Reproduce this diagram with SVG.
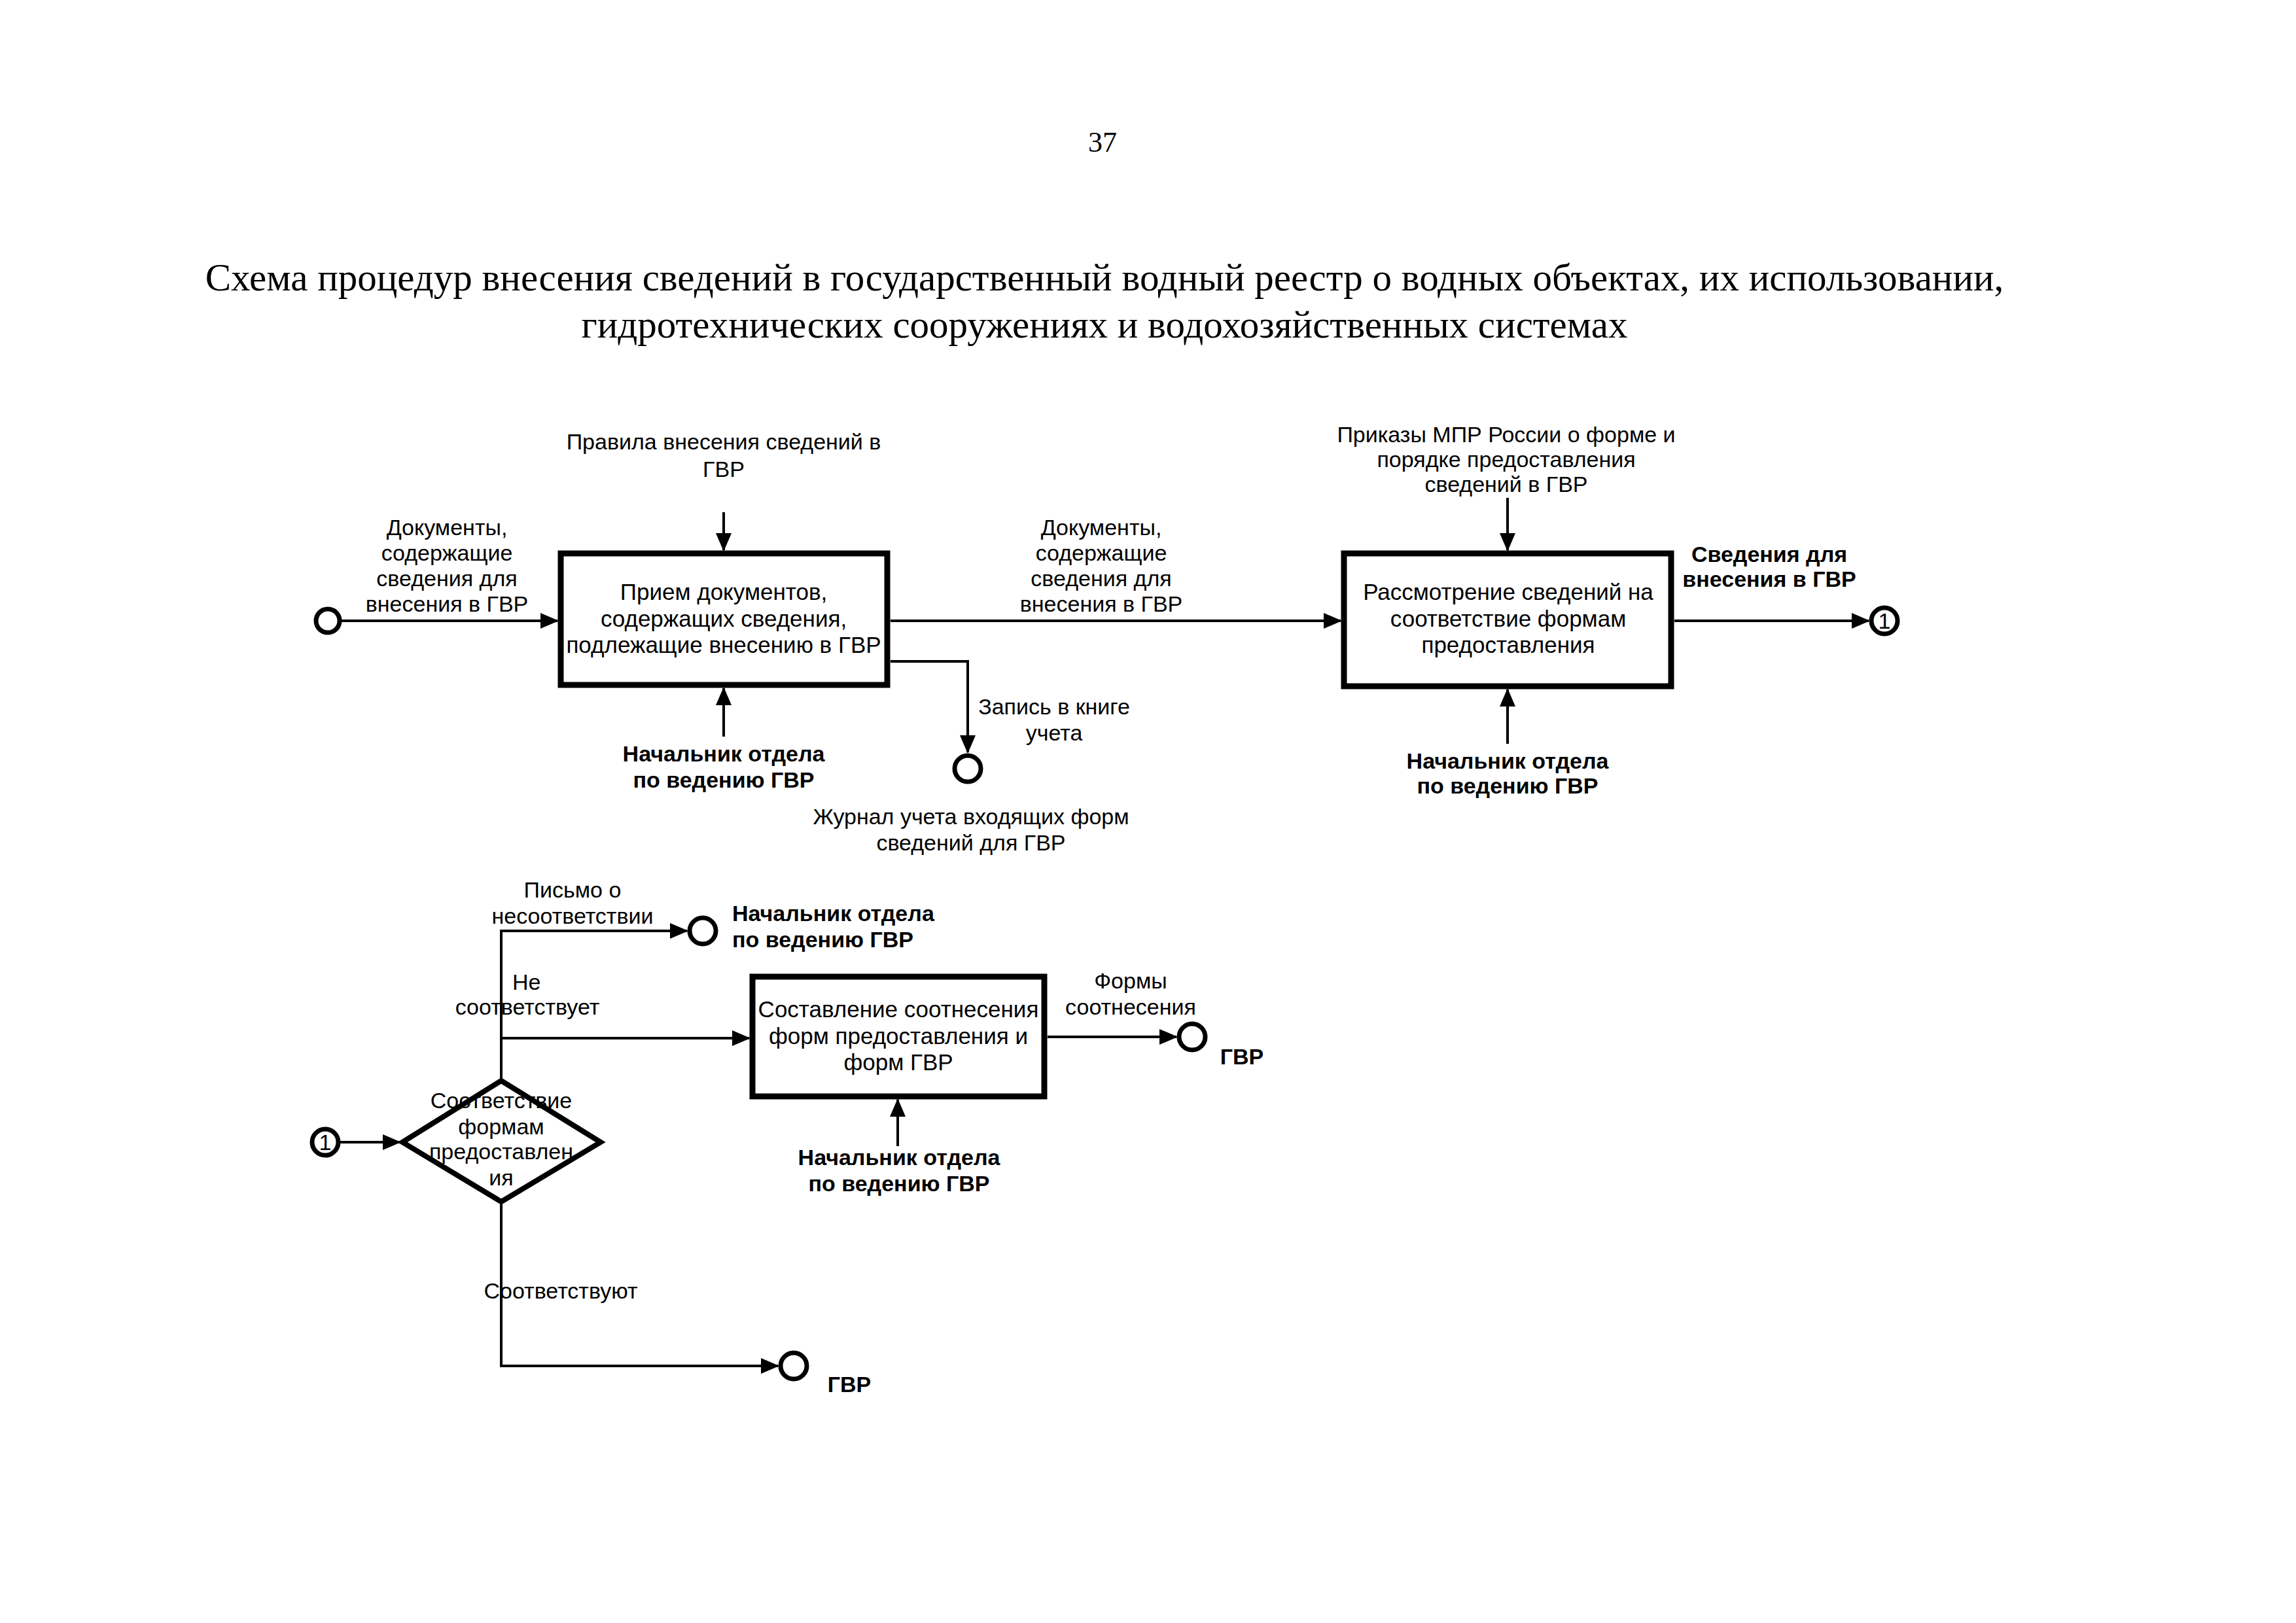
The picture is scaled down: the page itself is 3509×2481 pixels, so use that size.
<svg xmlns="http://www.w3.org/2000/svg" width="3509" height="2481" viewBox="0 0 3509 2481">
<style>
text{font-family:"Liberation Sans",Arial,sans-serif;font-size:34px;fill:#000;text-anchor:middle}
.b{font-weight:bold}
.st{text-anchor:start}
.bx{font-size:35px}
.ttl{font-family:"Liberation Serif","Times New Roman",serif;font-size:59px}
.pg{font-family:"Liberation Serif","Times New Roman",serif;font-size:44px}
.box{fill:#fff;stroke:#000;stroke-width:9}
.dia{fill:#fff;stroke:#000;stroke-width:8}
.term{fill:#fff;stroke:#000;stroke-width:7}
.ln{fill:none;stroke:#000;stroke-width:4}
.ar{marker-end:url(#ah)}
</style>
<defs>
<marker id="ah" markerUnits="userSpaceOnUse" markerWidth="28" markerHeight="24" refX="26" refY="12" orient="auto">
<path d="M0,0 L28,12 L0,24 z" fill="#000"/>
</marker>
</defs>
<rect width="3509" height="2481" fill="#fff"/>
<text class="pg" x="1685" y="232">37</text>
<text class="ttl" x="1688" y="444">Схема процедур внесения сведений в государственный водный реестр о водных объектах, их использовании,</text>
<text class="ttl" x="1688" y="516">гидротехнических сооружениях и водохозяйственных системах</text>

<g id="connectors">
<line class="ln ar" x1="522" y1="949" x2="852" y2="949"/>
<line class="ln ar" x1="1106" y1="783" x2="1106" y2="841"/>
<line class="ln ar" x1="1106" y1="1126" x2="1106" y2="1052"/>
<line class="ln ar" x1="1361" y1="949" x2="2049" y2="949"/>
<polyline class="ln ar" points="1361,1011 1479,1011 1479,1150"/>
<line class="ln ar" x1="2304" y1="761" x2="2304" y2="841"/>
<line class="ln ar" x1="2304" y1="1137" x2="2304" y2="1054"/>
<line class="ln ar" x1="2559" y1="949" x2="2856" y2="949"/>
<line class="ln ar" x1="520" y1="1746" x2="611" y2="1746"/>
<polyline class="ln ar" points="766,1652 766,1423 1050,1423"/>
<line class="ln ar" x1="766" y1="1587" x2="1145" y2="1587"/>
<line class="ln ar" x1="1372" y1="1752" x2="1372" y2="1681"/>
<line class="ln ar" x1="1601" y1="1585" x2="1798" y2="1585"/>
<polyline class="ln ar" points="766,1837 766,2088 1189,2088"/>
</g>

<g id="start-in"><circle class="term" cx="501" cy="949" r="18"/></g>
<g id="lbl-in">
<text x="683" y="818">Документы,</text>
<text x="683" y="857">содержащие</text>
<text x="683" y="896">сведения для</text>
<text x="683" y="935">внесения в ГВР</text>
</g>

<g id="box1">
<rect class="box" x="857" y="846" width="499" height="201"/>
<text class="bx" x="1106" y="917">Прием документов,</text>
<text class="bx" x="1106" y="958">содержащих сведения,</text>
<text class="bx" x="1106" y="998">подлежащие внесению в ГВР</text>
</g>
<g id="ctrl1">
<text x="1106" y="687">Правила внесения сведений в</text>
<text x="1106" y="729">ГВР</text>
</g>
<g id="mech1">
<text class="b" x="1106" y="1164">Начальник отдела</text>
<text class="b" x="1106" y="1204">по ведению ГВР</text>
</g>
<g id="lbl-mid">
<text x="1683" y="818">Документы,</text>
<text x="1683" y="857">содержащие</text>
<text x="1683" y="896">сведения для</text>
<text x="1683" y="935">внесения в ГВР</text>
</g>
<g id="journal">
<circle class="term" cx="1479" cy="1175" r="20"/>
<text x="1611" y="1092">Запись в книге</text>
<text x="1611" y="1132">учета</text>
<text x="1484" y="1260">Журнал учета входящих форм</text>
<text x="1484" y="1300">сведений для ГВР</text>
</g>

<g id="box2">
<rect class="box" x="2054" y="846" width="500" height="203"/>
<text class="bx" x="2305" y="917">Рассмотрение сведений на</text>
<text class="bx" x="2305" y="958">соответствие формам</text>
<text class="bx" x="2305" y="998">предоставления</text>
</g>
<g id="ctrl2">
<text x="2302" y="676">Приказы МПР России о форме и</text>
<text x="2302" y="714">порядке предоставления</text>
<text x="2302" y="752">сведений в ГВР</text>
</g>
<g id="mech2">
<text class="b" x="2304" y="1175">Начальник отдела</text>
<text class="b" x="2304" y="1213">по ведению ГВР</text>
</g>
<g id="out2">
<text class="b" x="2704" y="859">Сведения для</text>
<text class="b" x="2704" y="897">внесения в ГВР</text>
<circle class="term" cx="2880" cy="949" r="20"/>
<text x="2880" y="961">1</text>
</g>

<g id="conn1">
<circle class="term" cx="497" cy="1746" r="20"/>
<text x="497" y="1758">1</text>
</g>
<g id="decision">
<polygon class="dia" points="766,1652 918,1746 766,1837 615,1746"/>
<text x="766" y="1694">Соответствие</text>
<text x="766" y="1734">формам</text>
<text x="766" y="1772">предоставлен</text>
<text x="766" y="1812">ия</text>
</g>
<g id="letter">
<text x="875" y="1372">Письмо о</text>
<text x="875" y="1412">несоответствии</text>
<circle class="term" cx="1074" cy="1423" r="20"/>
<text class="b st" x="1119" y="1408">Начальник отдела</text>
<text class="b st" x="1119" y="1448">по ведению ГВР</text>
</g>
<g id="lbl-ne">
<text class="st" x="783" y="1513">Не</text>
<text x="806" y="1551">соответствует</text>
</g>
<g id="box3">
<rect class="box" x="1150" y="1493" width="446" height="183"/>
<text class="bx" x="1373" y="1555">Составление соотнесения</text>
<text class="bx" x="1373" y="1596">форм предоставления и</text>
<text class="bx" x="1373" y="1636">форм ГВР</text>
</g>
<g id="mech3">
<text class="b" x="1374" y="1781">Начальник отдела</text>
<text class="b" x="1374" y="1821">по ведению ГВР</text>
</g>
<g id="out3">
<text x="1728" y="1511">Формы</text>
<text x="1728" y="1551">соотнесения</text>
<circle class="term" cx="1822" cy="1585" r="20"/>
<text class="b" x="1898" y="1627">ГВР</text>
</g>
<g id="out4">
<text x="857" y="1985">Соответствуют</text>
<circle class="term" cx="1213" cy="2088" r="20"/>
<text class="b" x="1298" y="2128">ГВР</text>
</g>
</svg>
